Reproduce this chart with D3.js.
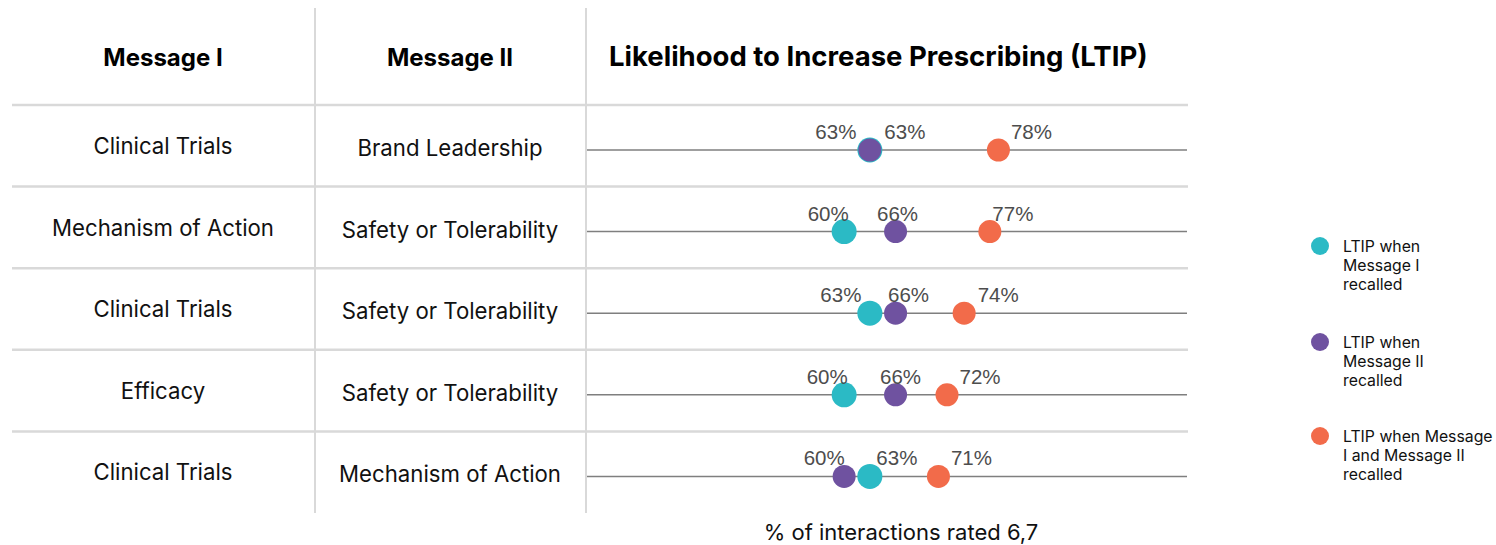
<!DOCTYPE html>
<html>
<head>
<meta charset="utf-8">
<script src="https://cdn.jsdelivr.net/npm/d3@7/dist/d3.min.js"></script>
<style>
  html, body { margin: 0; padding: 0; background: #fff; }
  svg { display: block; }
</style>
</head>
<body>
<svg id="chart" width="1496" height="545"></svg>
<script>
// Message pairs (one row each)
const messageI  = ["Clinical Trials", "Mechanism of Action", "Clinical Trials", "Efficacy", "Clinical Trials"];
const messageII = ["Brand Leadership", "Safety or Tolerability", "Safety or Tolerability", "Safety or Tolerability", "Mechanism of Action"];

// LTIP (% of interactions rated 6,7)
const ltipMessageI    = [63, 60, 63, 60, 63];
const ltipMessageII   = [63, 66, 66, 66, 60];
const ltipBoth        = [78, 77, 74, 72, 71];

const headers = ["Message I", "Message II", "Likelihood to Increase Prescribing (LTIP)"];
const axisTitle = "% of interactions rated 6,7";
const legendLines = [
  ["LTIP when", "Message I", "recalled"],
  ["LTIP when", "Message II", "recalled"],
  ["LTIP when Message", "I and Message II", "recalled"]
];

// horizontal nudges for the value labels so they do not collide
const labelNudge = [
  [-34, 35, 33],
  [-16, 2, 23],
  [-29, 13, 34],
  [-17, 5, 33],
  [27, -20, 33]
];

const colors = ["#2BBAC5", "#6F52A0", "#F26B4A"];
const radii = [12.5, 11.5, 11.5];

const svg = d3.select("#chart");
const series = [ltipMessageI, ltipMessageII, ltipBoth];
const rows = d3.range(messageI.length);

const x = d3.scaleLinear().domain([30, 100]).range([587, 1187]);
const y = d3.scaleBand().domain(rows).range([105, 513]);
const colX = [163, 450];

const headFont = "Inter, 'Open Sans', sans-serif";

// grid: vertical separators
[315, 586].forEach(px => {
  svg.append("line")
    .attr("x1", px).attr("x2", px).attr("y1", 8).attr("y2", 513)
    .attr("stroke", "#d9d9d9").attr("stroke-width", 2);
});
// grid: horizontal separators at top of each row
svg.selectAll("line.hsep").data(rows).enter().append("line")
  .attr("class", "hsep")
  .attr("x1", 12).attr("x2", 1188)
  .attr("y1", d => y(d)).attr("y2", d => y(d))
  .attr("stroke", "#d9d9d9").attr("stroke-width", 2.5);

// headers
svg.append("text").attr("x", colX[0]).attr("y", 66).attr("text-anchor", "middle")
  .attr("font-family", headFont).attr("font-weight", 700).attr("font-size", 24).attr("fill", "#000")
  .text(headers[0]);
svg.append("text").attr("x", colX[1]).attr("y", 66).attr("text-anchor", "middle")
  .attr("font-family", headFont).attr("font-weight", 700).attr("font-size", 24).attr("fill", "#000")
  .text(headers[1]);
svg.append("text").attr("x", 609).attr("y", 66).attr("text-anchor", "start")
  .attr("font-family", headFont).attr("font-weight", 700).attr("font-size", 27.5).attr("fill", "#000")
  .text(headers[2]);

const rowCenter = d => y(d) + 45;

// row labels
const rowG = svg.selectAll("g.row").data(rows).enter().append("g").attr("class", "row");
rowG.append("text").attr("x", colX[0]).attr("y", d => rowCenter(d) + 4)
  .attr("text-anchor", "middle").attr("font-family", headFont).attr("font-size", 22.2).attr("fill", "#111")
  .text(d => messageI[d]);
rowG.append("text").attr("x", colX[1]).attr("y", d => rowCenter(d) + 6)
  .attr("text-anchor", "middle").attr("font-family", headFont).attr("font-size", 22.2).attr("fill", "#111")
  .text(d => messageII[d]);

// dot-plot baselines
rowG.append("line")
  .attr("x1", x.range()[0]).attr("x2", x.range()[1])
  .attr("y1", d => rowCenter(d)).attr("y2", d => rowCenter(d))
  .attr("stroke", "#7f7f7f").attr("stroke-width", 1.5);

// dots: Message I, then Message II on top, then both
series.forEach((vals, si) => {
  svg.selectAll("circle.s" + si).data(rows).enter().append("circle")
    .attr("class", "s" + si)
    .attr("cx", d => x(vals[d]))
    .attr("cy", d => rowCenter(d))
    .attr("r", radii[si])
    .attr("fill", colors[si]);
});

// value labels
series.forEach((vals, si) => {
  svg.selectAll("text.v" + si).data(rows).enter().append("text")
    .attr("class", "v" + si)
    .attr("x", d => x(vals[d]) + labelNudge[d][si])
    .attr("y", d => rowCenter(d) - 11)
    .attr("text-anchor", "middle")
    .attr("font-family", "'Liberation Sans', Arial, sans-serif")
    .attr("font-size", 20.5).attr("fill", "#4d4d4d")
    .text(d => vals[d] + "%");
});

// axis title
svg.append("text").attr("x", 901).attr("y", 540).attr("text-anchor", "middle")
  .attr("font-family", headFont).attr("font-size", 22).attr("fill", "#111")
  .text(axisTitle);

// legend
const legendY = [246, 342, 436];
legendLines.forEach((lines, i) => {
  const g = svg.append("g").attr("transform", `translate(1320,${legendY[i]})`);
  g.append("circle").attr("r", 9).attr("fill", colors[i]);
  const t = g.append("text").attr("x", 23).attr("y", 6)
    .attr("font-family", headFont).attr("font-size", 15.8).attr("fill", "#111");
  lines.forEach((ln, k) => {
    t.append("tspan").attr("x", 23).attr("dy", k === 0 ? 0 : 19).text(ln);
  });
});
</script>
</body>
</html>
